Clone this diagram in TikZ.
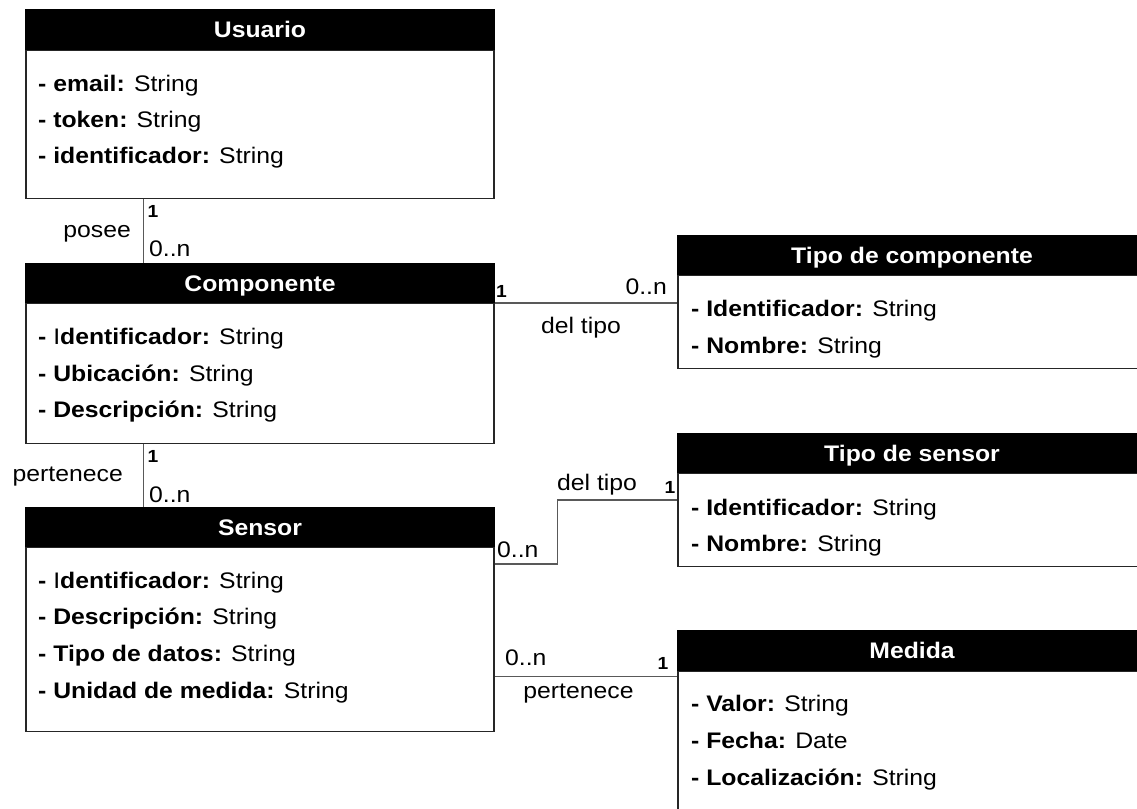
\documentclass[tikz,border=0pt]{standalone}
\usepackage{fontspec}
\setmainfont{Liberation Sans}[FakeStretch=1.1]
\usetikzlibrary{calc}

\tikzset{
  classhead/.style={draw=black, fill=black, text=white, line width=1.1pt,
    minimum width=468pt, minimum height=39pt, inner sep=0pt,
    text height=16pt, text depth=0pt,
    font=\fontsize{22.5}{27}\selectfont\bfseries},
  classbody/.style={draw=black!85, fill=white, line width=1.1pt,
    minimum width=468pt, inner sep=0pt, anchor=north},
  attr/.style={anchor=base west, inner sep=0pt, font=\fontsize{22.5}{27}\selectfont},
  mult/.style={anchor=base, inner sep=0pt, font=\fontsize{17.5}{20}\selectfont\bfseries},
  card/.style={inner sep=0pt, font=\fontsize{22.5}{27}\selectfont},
  role/.style={inner sep=0pt, font=\fontsize{22.5}{27}\selectfont},
  link/.style={draw=black!65, line width=1.3pt},
}

\begin{document}
\begin{tikzpicture}[x=1pt, y=-1pt]
\useasboundingbox (0,0) rectangle (1137,808);
\clip (0,0) rectangle (1137,808);

% ---------- Usuario ----------
\node[classhead] (usuarioH) at (260,29.5) {Usuario};
\node[classbody, minimum height=148pt] (usuario) at (usuarioH.south) {};
\node[attr] (u1) at (38,91)  {\textbf{- email:} String};
\node[attr] (u2) at (38,127) {\textbf{- token:} String};
\node[attr] (u3) at (38,163) {\textbf{- identificador:} String};

% ---------- Componente ----------
\node[classhead] (componenteH) at (260,283) {Componente};
\node[classbody, minimum height=140pt] (componente) at (componenteH.south) {};
\node[attr] (c1) at (38,344) {\textbf{- }I\textbf{dentificador:} String};
\node[attr] (c2) at (38,381) {\textbf{- Ubicación:} String};
\node[attr] (c3) at (38,417) {\textbf{- Descripción:} String};

% ---------- Sensor ----------
\node[classhead] (sensorH) at (260,527) {Sensor};
\node[classbody, minimum height=184pt] (sensor) at (sensorH.south) {};
\node[attr] (s1) at (38,588) {\textbf{- }I\textbf{dentificador:} String};
\node[attr] (s2) at (38,624) {\textbf{- Descripción:} String};
\node[attr] (s3) at (38,661) {\textbf{- Tipo de datos:} String};
\node[attr] (s4) at (38,698) {\textbf{- Unidad de medida:} String};

% ---------- Tipo de componente ----------
\node[classhead] (tipocompH) at (912,255) {Tipo de componente};
\node[classbody, minimum height=93pt] (tipocomp) at (tipocompH.south) {};
\node[attr] (tc1) at (691,316) {\textbf{- Identificador:} String};
\node[attr] (tc2) at (691,353) {\textbf{- Nombre:} String};

% ---------- Tipo de sensor ----------
\node[classhead] (tiposensH) at (912,453) {Tipo de sensor};
\node[classbody, minimum height=93pt] (tiposens) at (tiposensH.south) {};
\node[attr] (ts1) at (691,515) {\textbf{- Identificador:} String};
\node[attr] (ts2) at (691,551) {\textbf{- Nombre:} String};

% ---------- Medida ----------
\node[classhead] (medidaH) at (912,650.5) {Medida};
\node[classbody, minimum height=160pt] (medida) at (medidaH.south) {};
\node[attr] (md1) at (691,711) {\textbf{- Valor:} String};
\node[attr] (md2) at (691,748) {\textbf{- Fecha:} Date};
\node[attr] (md3) at (691,785) {\textbf{- Localización:} String};

% ---------- associations ----------
% Usuario -- Componente
\draw[link] ($(usuario.south west)+(118,0)$) -- ($(componenteH.north west)+(118,0)$);
\node[mult] (a1m) at (153,217) {1};
\node[card, anchor=base west] (a1c) at (149,256) {0..n};
\node[role, anchor=base east] (a1r) at (131,237) {posee};

% Componente -- Sensor
\draw[link] ($(componente.south west)+(118,0)$) -- ($(sensorH.north west)+(118,0)$);
\node[mult] (a2m) at (153,462) {1};
\node[card, anchor=base west] (a2c) at (149,502) {0..n};
\node[role, anchor=base east] (a2r) at (123,481) {pertenece};

% Componente -- Tipo de componente
\draw[link] (componenteH.south east) -- (componenteH.south east -| tipocomp.west);
\node[mult] (a3m) at (501.5,297) {1};
\node[card, anchor=base east] (a3c) at (667,294) {0..n};
\node[role, anchor=base] (a3r) at (581,333) {del tipo};

% Sensor -- Tipo de sensor
\draw[link] ($(sensorH.south east)+(0,17)$) -| ($(tiposensH.south west)+(-120,27)$)
  -- ($(tiposensH.south west)+(0,27)$);
\node[card, anchor=base west] (a4c) at (497,557) {0..n};
\node[role, anchor=base west] (a4r) at (557,490) {del tipo};
\node[mult] (a4m) at (670,493) {1};

% Sensor -- Medida
\coordinate (medidaIn) at ($(medidaH.south west)+(0,6)$);
\draw[link] (sensor.east |- medidaIn) -- (medidaIn);
\node[card, anchor=base west] (a5c) at (505,665) {0..n};
\node[mult] (a5m) at (663,669) {1};
\node[role, anchor=base] (a5r) at (578.5,698) {pertenece};
\end{tikzpicture}
\end{document}
